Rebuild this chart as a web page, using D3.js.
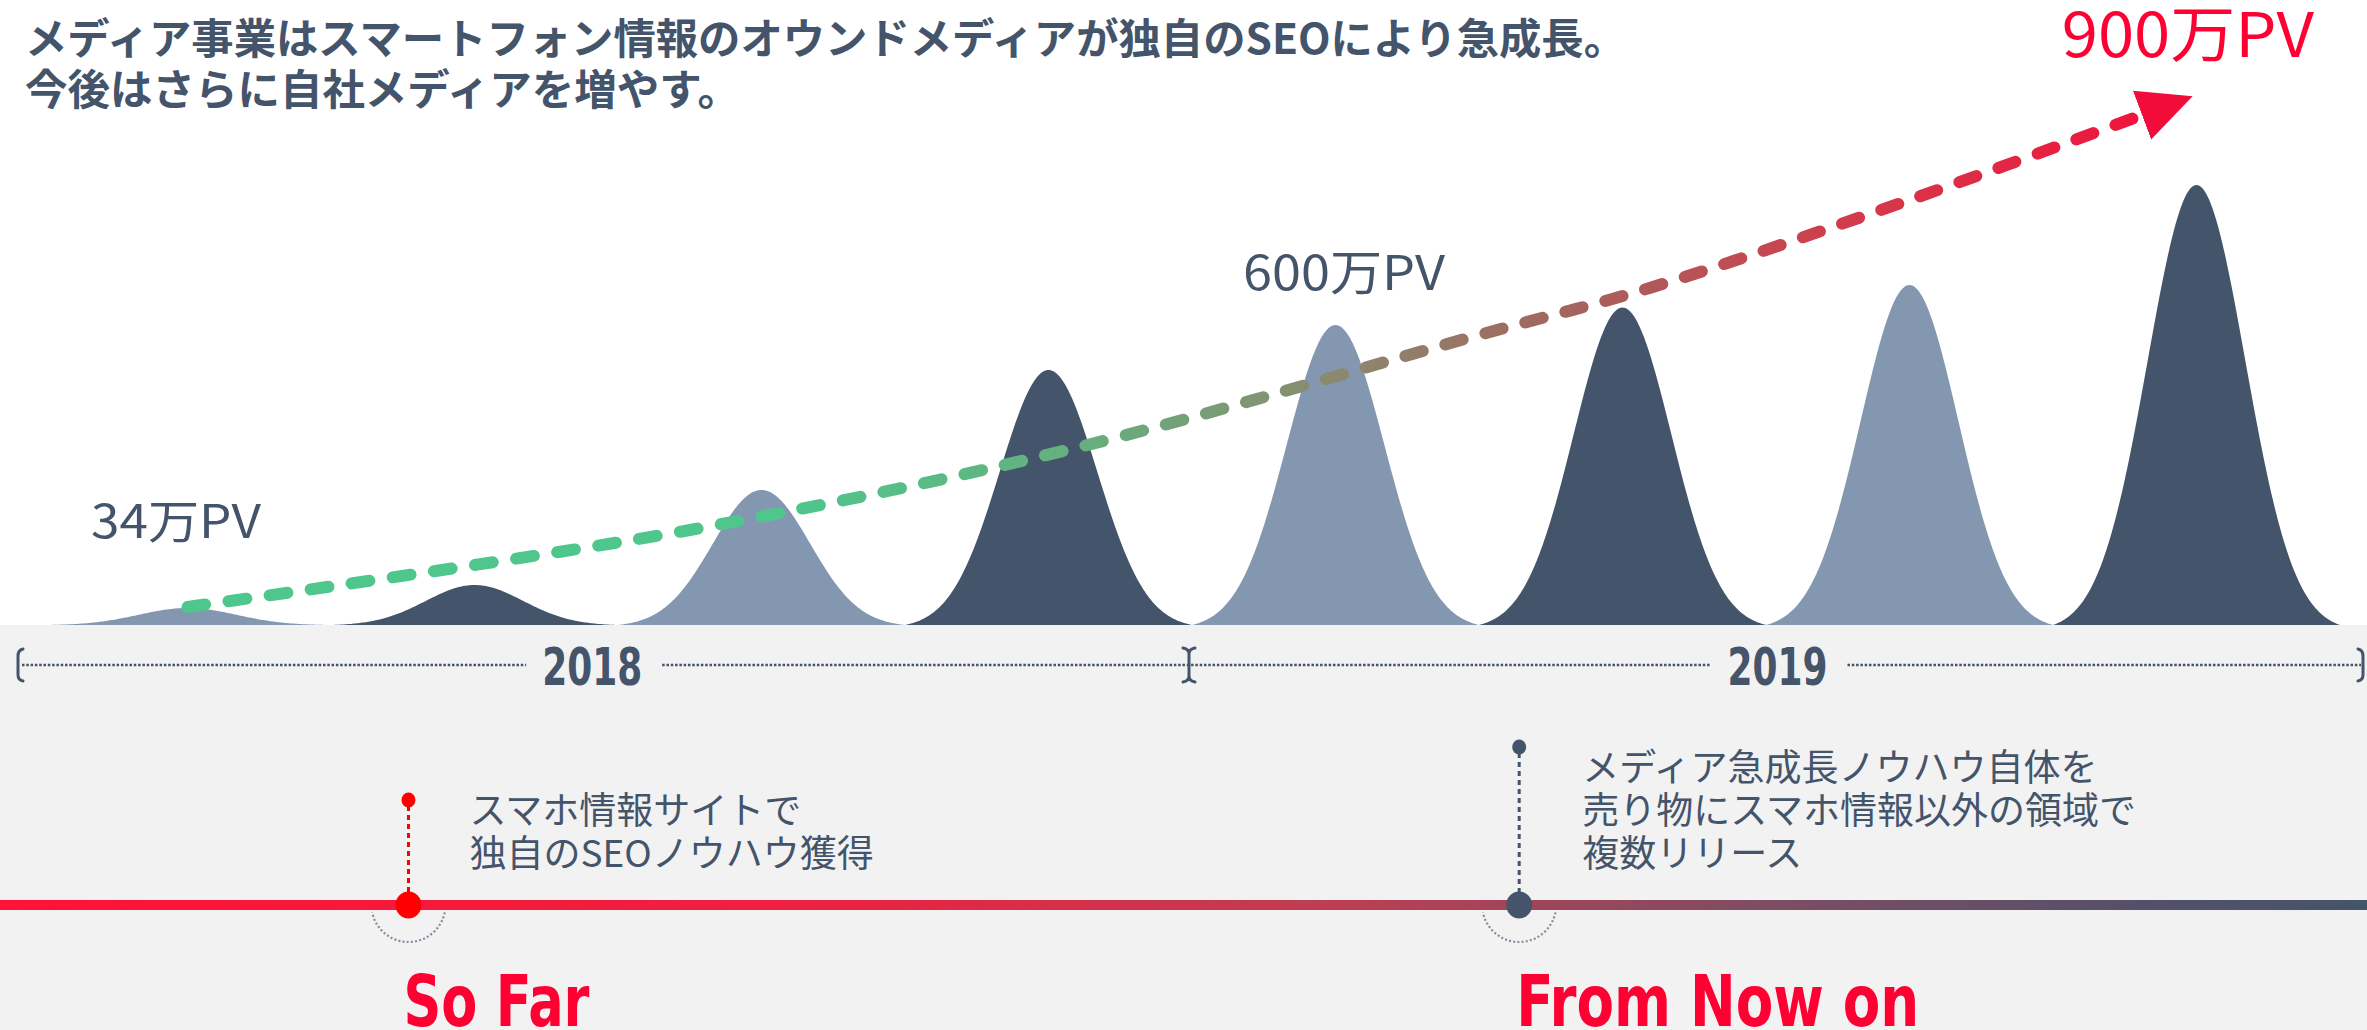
<!DOCTYPE html>
<html><head><meta charset="utf-8">
<script src="https://cdn.jsdelivr.net/npm/d3@7"></script>
<style>html,body{margin:0;padding:0;background:#fff;overflow:hidden;} svg{display:block;}</style>
</head><body>
<svg id="chart" width="2367" height="1030"></svg>
<script>
// ---------- data ----------
const titleLines = ["メディア事業はスマートフォン情報のオウンドメディアが独自のSEOにより急成長。", "今後はさらに自社メディアを増やす。"];
const quarters = ["2018 Q1","2018 Q2","2018 Q3","2018 Q4","2019 Q1","2019 Q2","2019 Q3","2019 Q4"];
const pageViews = [34, 80, 270, 510, 600, 635, 680, 880];          // 万PV per period
const years = ["2018", "2019"];
const trendPos = [0.5, 2.25, 3.6, 5.0, 5.6, 6.5, 7.32];             // period index
const trendValues = [36, 190, 355, 580, 675, 850, 1022];            // 万PV
const pvLabels = ["34万PV", "600万PV", "900万PV"];
const pvLabelPos = [0.46, 4.53, 7.47];
const pvLabelValues = [34, 600, 900];
const milestones = ["So Far", "From Now on"];
const milestonePos = [1.27, 5.14];
const milestoneNotes = [
  ["スマホ情報サイトで", "独自のSEOノウハウ獲得"],
  ["メディア急成長ノウハウ自体を", "売り物にスマホ情報以外の領域で", "複数リリース"]
];

// ---------- layout / style ----------
const W = 2367, H = 1030;
const DARK = "#44546A", LIGHT = "#8497B0", RED = "#FF0033";
const JP = "'Noto Sans CJK JP','Noto Sans',sans-serif";
const COND = "'Liberation Sans Narrow','DejaVu Sans Condensed',sans-serif";
const baseY = 625, axisY = 665, lineY = 905;

const svg = d3.select("#chart");
const defs = svg.append("defs");

const x = d3.scaleLinear().domain([0, 8]).range([44, 2340]);
const y = d3.scaleLinear().domain([0, 900]).range([baseY, baseY - 450]);

// gradients
const g1 = defs.append("linearGradient").attr("id", "trendGrad")
  .attr("gradientUnits", "userSpaceOnUse").attr("x1", x(0.5)).attr("x2", x(7.5)).attr("y1", 0).attr("y2", 0);
[[0, "#4EC78D"], [0.3, "#4EC68C"], [0.45, "#67AE7E"], [0.57, "#8A8A6E"], [0.68, "#A26660"], [0.84, "#D5384A"], [1, "#F50D3A"]]
  .forEach(([o, c]) => g1.append("stop").attr("offset", o).attr("stop-color", c));
const g2 = defs.append("linearGradient").attr("id", "timeGrad")
  .attr("gradientUnits", "userSpaceOnUse").attr("x1", 0).attr("x2", W).attr("y1", 0).attr("y2", 0);
[[0, "#FF1236"], [0.33, "#EE2040"], [0.56, "#BE3E53"], [0.75, "#7D4D63"], [0.9, "#56506A"], [1, "#44546A"]]
  .forEach(([o, c]) => g2.append("stop").attr("offset", o).attr("stop-color", c));

defs.append("marker").attr("id", "arrow")
  .attr("markerUnits", "userSpaceOnUse").attr("viewBox", "0 -28 56 56")
  .attr("markerWidth", 56).attr("markerHeight", 56).attr("refX", 3).attr("refY", 0)
  .attr("orient", "auto")
  .append("path").attr("d", "M0,-26 L54,0 L0,26 Z").attr("fill", "#F20C3A");

// background
svg.append("rect").attr("x", 0).attr("y", 0).attr("width", W).attr("height", H).attr("fill", "#fff");
svg.append("rect").attr("x", 0).attr("y", baseY).attr("width", W).attr("height", H - baseY).attr("fill", "#F2F2F2");

// title
const titleLen = [1601, 715];
svg.append("g").selectAll("text").data(titleLines).join("text")
  .attr("x", 25).attr("y", (d, i) => 54 + i * 51)
  .attr("font-family", JP).attr("font-weight", 700).attr("font-size", 42).attr("fill", DARK)
  .attr("textLength", (d, i) => titleLen[i]).attr("lengthAdjust", "spacingAndGlyphs")
  .text(d => d);

// peaks
const sigma = 0.17;
const e0 = Math.exp(-0.25 / (2 * sigma * sigma));
const shape = t => Math.max(0, (Math.exp(-t * t / (2 * sigma * sigma)) - e0) / (1 - e0));
const ts = d3.range(-0.5, 0.50001, 0.005);
const area = d3.area().x(d => x(d.x)).y0(y(0)).y1(d => y(d.v));
svg.append("g").selectAll("path").data(pageViews).join("path")
  .attr("d", (v, i) => area(ts.map(t => ({ x: i + 0.5 + t, v: v * shape(t) }))))
  .attr("fill", (v, i) => i % 2 === 0 ? LIGHT : DARK)
  .append("title").text((v, i) => quarters[i] + ": " + v + "万PV");

// trend dashed line with arrow
const trend = trendPos.map((p, i) => [p, trendValues[i]]);
svg.append("path")
  .attr("d", d3.line().x(d => x(d[0])).y(d => y(d[1])).curve(d3.curveCatmullRom.alpha(0.5))(trend))
  .attr("fill", "none").attr("stroke", "url(#trendGrad)").attr("stroke-width", 12)
  .attr("stroke-linecap", "round").attr("stroke-dasharray", "18 23.5")
  .attr("marker-end", "url(#arrow)");

// PV labels
const pvDy = [-70, -35, -118];
const pvSize = [46, 48, 61];
const pvLen = [170, 202, 252];
svg.append("g").selectAll("text").data(pvLabels).join("text")
  .attr("x", (d, i) => x(pvLabelPos[i])).attr("y", (d, i) => y(pvLabelValues[i]) + pvDy[i])
  .attr("text-anchor", "middle").attr("font-family", JP)
  .attr("font-size", (d, i) => pvSize[i]).attr("fill", (d, i) => i === 2 ? RED : DARK)
  .attr("textLength", (d, i) => pvLen[i]).attr("lengthAdjust", "spacingAndGlyphs")
  .text(d => d);

// year axis
const bounds = [x(0) - 26, x(4) - 3, x(8) + 23];
const yearMid = [x(1.91), x(6.04)];
const yearW = 100;
const dotSeg = [
  [bounds[0] + 4, yearMid[0] - yearW / 2 - 16],
  [yearMid[0] + yearW / 2 + 20, yearMid[1] - yearW / 2 - 17],
  [yearMid[1] + yearW / 2 + 20, bounds[2] - 2]
];
svg.append("g").selectAll("line").data(dotSeg).join("line")
  .attr("x1", d => d[0]).attr("x2", d => d[1]).attr("y1", axisY).attr("y2", axisY)
  .attr("stroke", DARK).attr("stroke-width", 2.5).attr("stroke-dasharray", "2.5 1.8");
svg.append("g").selectAll("text").data(years).join("text")
  .attr("x", (d, i) => yearMid[i]).attr("y", axisY + 20)
  .attr("text-anchor", "middle").attr("font-family", COND).attr("font-weight", 700)
  .attr("font-size", 52).attr("fill", DARK)
  .attr("textLength", yearW).attr("lengthAdjust", "spacingAndGlyphs")
  .text(d => d);
// brackets
const bx0 = bounds[0], bx1 = bounds[1], bx2 = bounds[2];
const bp = svg.append("g").attr("fill", "none").attr("stroke", DARK).attr("stroke-width", 3).attr("stroke-linecap", "round");
bp.append("path").attr("d", `M${bx0 + 5},${axisY - 16} Q${bx0},${axisY - 15} ${bx0},${axisY - 9} L${bx0},${axisY + 10} Q${bx0},${axisY + 15} ${bx0 + 5},${axisY + 16}`);
bp.append("path").attr("d", `M${bx1 - 6},${axisY - 17} Q${bx1},${axisY - 16} ${bx1},${axisY - 11} L${bx1},${axisY + 11} Q${bx1},${axisY + 16} ${bx1 - 6},${axisY + 17} M${bx1 + 6},${axisY - 17} Q${bx1},${axisY - 16} ${bx1},${axisY - 11} M${bx1},${axisY + 11} Q${bx1},${axisY + 16} ${bx1 + 6},${axisY + 17}`);
bp.append("path").attr("d", `M${bx2 - 5},${axisY - 16} Q${bx2},${axisY - 15} ${bx2},${axisY - 9} L${bx2},${axisY + 10} Q${bx2},${axisY + 15} ${bx2 - 5},${axisY + 16}`);

// bottom timeline
svg.append("rect").attr("x", 0).attr("y", lineY - 5).attr("width", W).attr("height", 10).attr("fill", "url(#timeGrad)");

const msColor = ["#FF0000", DARK];
const stemTop = [800, 747];
const ms = svg.append("g").selectAll("g").data(milestones).join("g");
ms.each(function (d, i) {
  const g = d3.select(this);
  const cx = x(milestonePos[i]);
  // dotted arc under the marker
  const p = d3.path();
  p.arc(cx, lineY, 37, 0.2, Math.PI - 0.2);
  g.append("path").attr("d", p.toString()).attr("fill", "none")
    .attr("stroke", "#6E7A8E").attr("stroke-width", 2.2).attr("stroke-dasharray", "2 2.2").attr("opacity", 0.85);
  // stem
  g.append("line").attr("x1", cx).attr("x2", cx).attr("y1", stemTop[i] + 6).attr("y2", lineY - 12)
    .attr("stroke", msColor[i]).attr("stroke-width", 3).attr("stroke-dasharray", "5 4");
  g.append("ellipse").attr("cx", cx).attr("cy", stemTop[i]).attr("rx", 7).attr("ry", 7.5).attr("fill", msColor[i]);
  g.append("ellipse").attr("cx", cx).attr("cy", lineY).attr("rx", 13).attr("ry", 13.5).attr("fill", msColor[i]);
  // note
  const notes = milestoneNotes[i];
  g.append("g").selectAll("text").data(notes).join("text")
    .attr("x", cx + (i === 0 ? 61 : 63)).attr("y", (t, j) => 867 - (notes.length - 1 - j) * 43)
    .attr("font-family", JP).attr("font-size", 37).attr("fill", DARK).text(t => t);
  // milestone title
  g.append("text").attr("x", cx - (i === 0 ? 5 : 3)).attr("y", 1026)
    .attr("font-family", COND).attr("font-weight", 700).attr("font-size", 72).attr("fill", RED)
    .attr("textLength", i === 0 ? 186 : 403).attr("lengthAdjust", "spacingAndGlyphs")
    .text(d);
});
</script>
</body></html>
